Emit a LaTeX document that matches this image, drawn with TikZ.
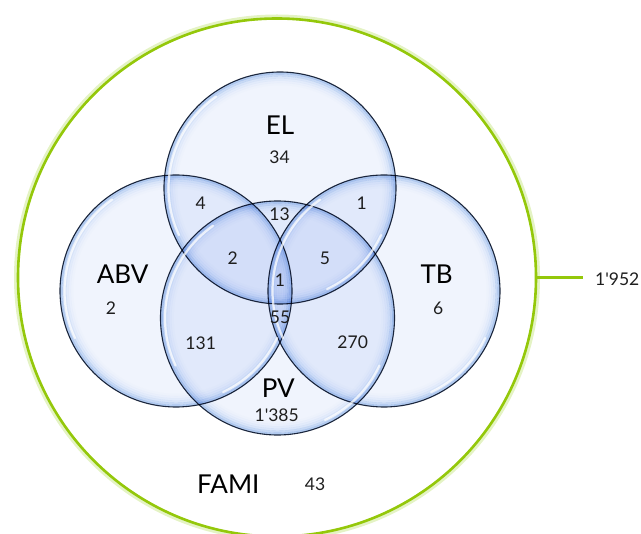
\documentclass[tikz,border=0pt]{standalone}
\usepackage{fontspec}
\newfontfamily\lato{Lato}
\definecolor{famigreen}{RGB}{148,200,10}
\definecolor{famiglow}{RGB}{228,243,196}
\definecolor{rimline}{RGB}{35,45,65}
\definecolor{numgray}{RGB}{30,30,30}
\definecolor{bubfill}{rgb}{0.94,0.958,0.992}
\definecolor{rimA}{rgb}{0.745,0.835,0.948}
\definecolor{rimB}{rgb}{0.83,0.892,0.968}
\definecolor{rimC}{rgb}{0.904,0.94,0.983}
\definecolor{rimD}{rgb}{0.947,0.966,0.991}
\definecolor{rimE}{rgb}{0.973,0.981,0.995}
\definecolor{rimF}{rgb}{0.989,0.992,0.998}
\tikzset{
  bubblenode/.style={circle, inner sep=0pt, outer sep=0pt, minimum size=#1, fill=bubfill, draw=rimline, line width=1.1pt},
  rimband/.style={line width=2.3pt},
  hl/.style={white, line width=2.2pt, opacity=0.75, line cap=round},
  setlabel/.style={inner sep=0pt, font=\lato\fontsize{26}{30}\selectfont, text=black},
  num/.style={inner sep=0pt, font=\lato\fontsize{17.5}{20}\selectfont, text=numgray},
}
\newcommand\bubblerim[2]{%
  \foreach \off/\col in {1.1/rimA, 3.3/rimB, 5.5/rimC, 7.7/rimD, 9.9/rimE, 12.1/rimF}{
    \draw[rimband, draw=\col] (#1.center) circle[radius={(#2-\off)*1pt}];
  }%
}
\begin{document}
\begin{tikzpicture}[x=1pt,y=-1pt]
\useasboundingbox (0,0) rectangle (641,534);
% outer FAMI ring with glow
\node[circle, inner sep=0pt, outer sep=0pt, minimum size=521pt, draw=famiglow, line width=5pt] (glow) at (277,277.5) {};
\node[circle, inner sep=0pt, outer sep=0pt, minimum size=518pt, draw=famigreen, line width=2.6pt] (ring) at (277,277.5) {};
\coordinate (lineend) at (583,277.5);
\draw[famigreen, line width=2.2pt] (ring.east) -- (lineend);
\node[num, anchor=west] (total) at (595,279) {1'952};
% bubbles
\begin{scope}[blend mode=multiply]
\node[bubblenode=232pt] (ELc) at (280,188) {};
\node[bubblenode=232pt] (ABVc) at (176,291) {};
\node[bubblenode=232pt] (TBc) at (384,291) {};
\node[bubblenode=234pt] (PVc) at (277.5,318) {};
\bubblerim{ELc}{116}
\bubblerim{ABVc}{116}
\bubblerim{TBc}{116}
\bubblerim{PVc}{117}
\end{scope}
% glossy highlights
\foreach \c/\r in {ELc/111.5, ABVc/111.5, TBc/111.5, PVc/112.5}{
  \draw[hl] (\c.center) ++(125:\r pt) arc[start angle=125, end angle=205, radius=\r pt];
  \draw[hl] (\c.center) ++(295:\r pt) arc[start angle=295, end angle=335, radius=\r pt];
}
% set labels
\node[setlabel] (ELl) at (280,125) {EL};
\node[setlabel] (ABVl) at (122.7,274) {ABV};
\node[setlabel] (TBl) at (436.7,274) {TB};
\node[setlabel] (PVl) at (278.3,388) {PV};
\node[setlabel] (FAMIl) at (228.3,484) {FAMI};
% counts
\node[num] (n34) at (279.5,157) {34};
\node[num] (nABV) at (111,308) {2};
\node[num] (nTB) at (438.3,308) {6};
\node[num] (n4) at (200.7,203) {4};
\node[num] (n13) at (279.5,214) {13};
\node[num] (n1a) at (361.7,203) {1};
\node[num] (n2) at (232.7,258) {2};
\node[num] (n5) at (325,258) {5};
\node[num] (n1b) at (280,280) {1};
\node[num] (n55) at (280,317.7) {55};
\node[num] (n131) at (200.7,343) {131};
\node[num] (n270) at (352.7,342.7) {270};
\node[num] (nPV) at (276.7,415) {1'385};
\node[num] (n43) at (315,484) {43};
\end{tikzpicture}
\end{document}
